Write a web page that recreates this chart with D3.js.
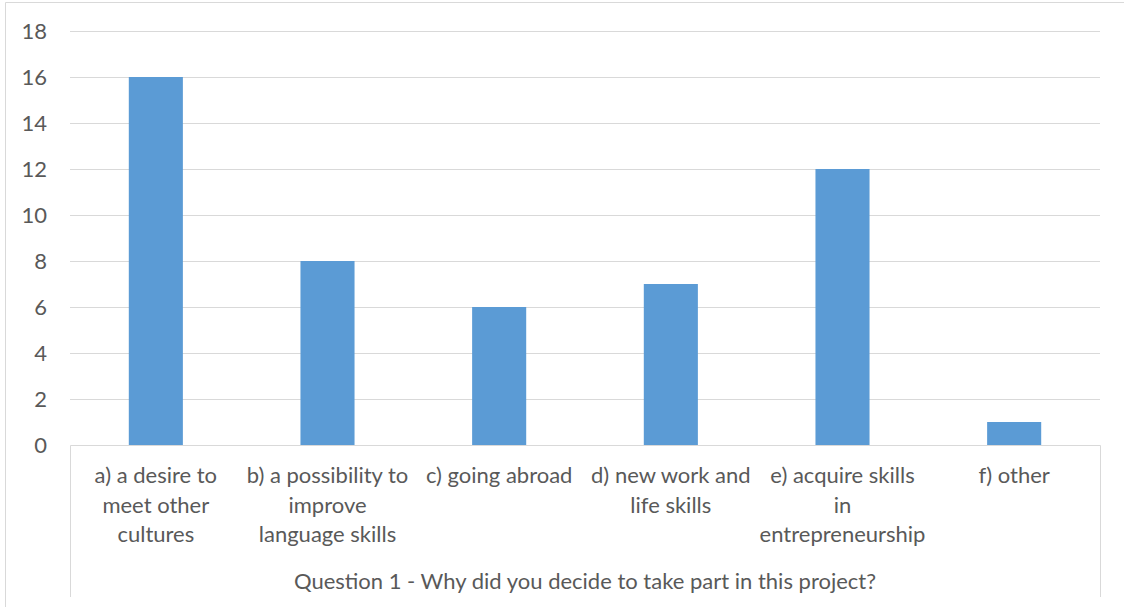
<!DOCTYPE html>
<html><head><meta charset="utf-8">
<script src="https://cdn.jsdelivr.net/npm/d3@7"></script>
<style>
html,body{margin:0;padding:0;background:#fff;}
svg text{font-family:Lato,"Open Sans",sans-serif;fill:#595959;}
</style></head>
<body>
<svg id="chart" width="1124" height="607"></svg>
<script>
const categories = [
  "a) a desire to\nmeet other\ncultures",
  "b) a possibility to\nimprove\nlanguage skills",
  "c) going abroad",
  "d) new work and\nlife skills",
  "e) acquire skills\nin\nentrepreneurship",
  "f) other"
];
const values = [16, 8, 6, 7, 12, 1];
const yTicks = [0, 2, 4, 6, 8, 10, 12, 14, 16, 18];
const axisTitle = "Question 1 - Why did you decide to take part in this project?";

const svg = d3.select("#chart");
const m = {left: 70, right: 1100, top: 31, bottom: 445};

svg.append("path").attr("d", "M5.5,607 V2.5 H1124")
  .attr("fill", "none").attr("stroke", "#d9d9d9").attr("stroke-width", 1);

const x = d3.scaleBand().domain(categories).range([m.left, m.right]).padding(0);
const y = d3.scaleLinear().domain([0, 18]).range([m.bottom, m.top]);

svg.append("g").selectAll("line").data(yTicks.filter(d => d > 0)).join("line")
  .attr("x1", m.left).attr("x2", m.right)
  .attr("y1", d => Math.round(y(d)) + 0.5).attr("y2", d => Math.round(y(d)) + 0.5)
  .attr("stroke", "#d9d9d9").attr("stroke-width", 1);

svg.append("g").selectAll("text").data(yTicks).join("text")
  .attr("x", 47).attr("y", d => y(d)).attr("dy", "0.35em")
  .attr("text-anchor", "end").attr("font-size", 22).text(d => d);

const bw = x.bandwidth() * 0.315;
svg.append("g").selectAll("rect").data(values).join("rect")
  .attr("x", (d, i) => x(categories[i]) + x.bandwidth() / 2 - bw / 2)
  .attr("width", bw)
  .attr("y", d => y(d))
  .attr("height", d => y(0) - y(d))
  .attr("fill", "#5b9bd5");

svg.append("path")
  .attr("d", `M${m.left + 0.5},597 V${m.bottom + 0.5} H${m.right + 0.5} V597`)
  .attr("fill", "none").attr("stroke", "#d9d9d9").attr("stroke-width", 1);

const lab = svg.append("g").selectAll("text").data(categories).join("text")
  .attr("text-anchor", "middle").attr("font-size", 22)
  .attr("transform", d => `translate(${x(d) + x.bandwidth() / 2},483)`);
lab.selectAll("tspan").data(d => d.split("\n")).join("tspan")
  .attr("x", 0).attr("y", (d, i) => i * 29.5).text(d => d);

svg.append("text").attr("x", (m.left + m.right) / 2).attr("y", 589)
  .attr("text-anchor", "middle").attr("font-size", 22).text(axisTitle);
</script>
</body></html>
